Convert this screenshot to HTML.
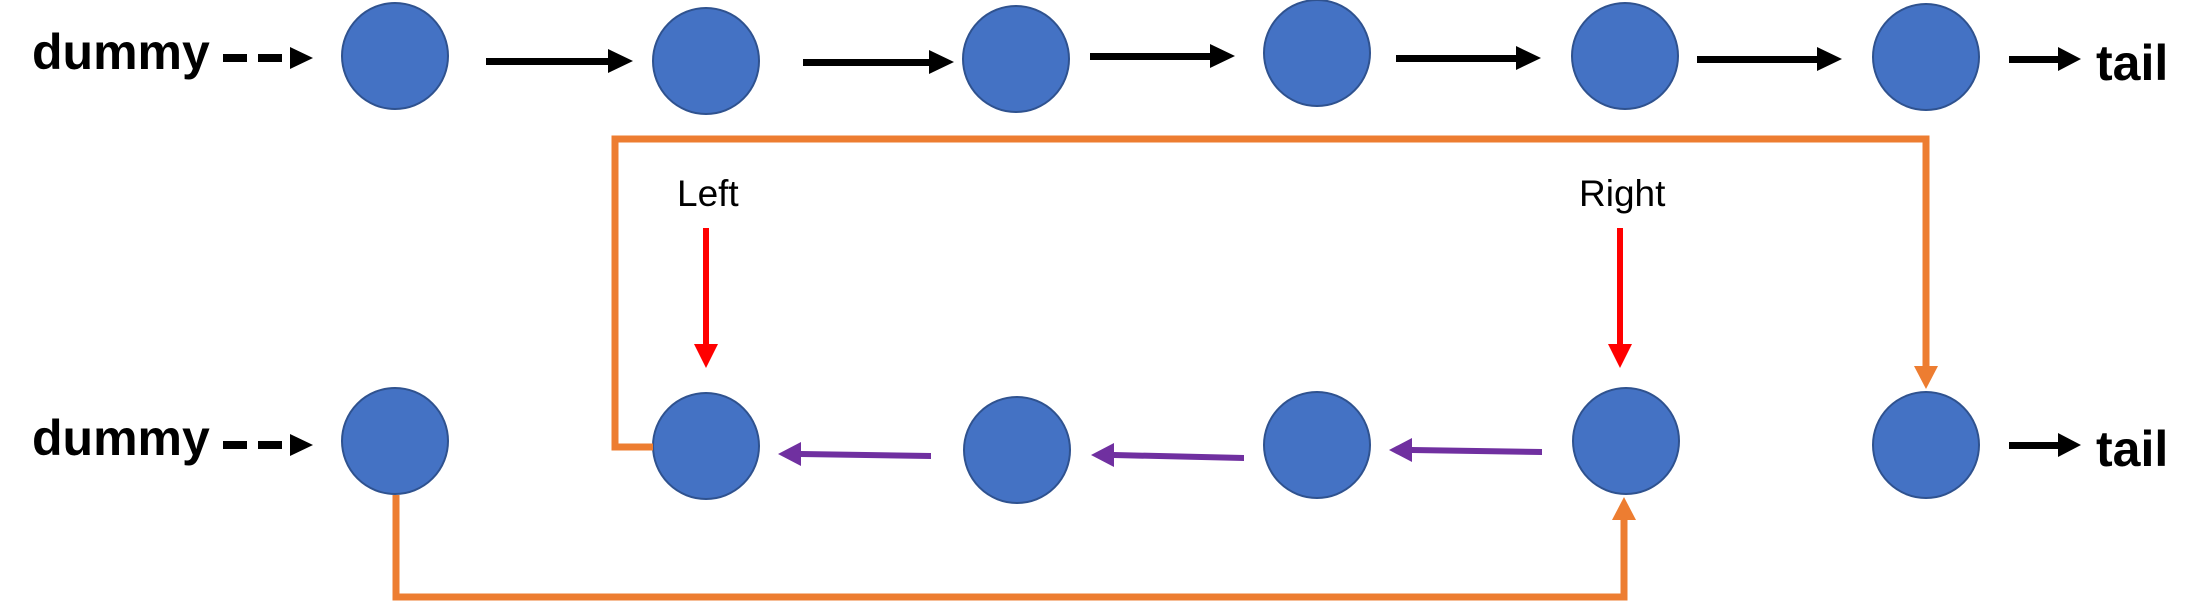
<!DOCTYPE html>
<html><head><meta charset="utf-8"><style>
html,body{margin:0;padding:0;background:#fff;}
svg{display:block;}
text{font-family:"Liberation Sans",sans-serif;}
</style></head><body>
<svg width="2206" height="604" viewBox="0 0 2206 604" xmlns="http://www.w3.org/2000/svg">
<g fill="#4472C4" stroke="#2F528F" stroke-width="2">
<ellipse cx="395" cy="56" rx="53" ry="53"/>
<ellipse cx="706" cy="61" rx="53" ry="53"/>
<ellipse cx="1016" cy="59" rx="53" ry="53"/>
<ellipse cx="1317" cy="53" rx="53" ry="53"/>
<ellipse cx="1625" cy="56" rx="53" ry="53"/>
<ellipse cx="1926" cy="57" rx="53" ry="53"/>
<ellipse cx="395" cy="441" rx="53" ry="53"/>
<ellipse cx="706" cy="446" rx="53" ry="53"/>
<ellipse cx="1017" cy="450" rx="53" ry="53"/>
<ellipse cx="1317" cy="445" rx="53" ry="53"/>
<ellipse cx="1626" cy="441" rx="53" ry="53"/>
<ellipse cx="1926" cy="445" rx="53" ry="53"/>
</g>
<!-- labels -->
<g font-weight="bold" font-size="50" fill="#000">
<text x="32" y="69">dummy</text>
<text x="32" y="455">dummy</text>
<text x="2096" y="80">tail</text>
<text x="2096" y="466">tail</text>
</g>
<text x="677" y="206" font-size="37">Left</text>
<text x="1579" y="206" font-size="37">Right</text>
<!-- dashed arrows -->
<g fill="#000">
<rect x="223" y="54" width="24" height="8"/><rect x="258" y="54" width="24" height="8"/>
<polygon points="290,47 313,58 290,69"/>
<rect x="223" y="441" width="24" height="8"/><rect x="258" y="441" width="24" height="8"/>
<polygon points="290,434 313,445 290,456"/>
</g>
<!-- black arrows top -->
<g fill="#000">
<rect x="486" y="58" width="124" height="7"/><polygon points="608,49 633,61 608,73"/>
<rect x="803" y="59" width="128" height="7"/><polygon points="929,50 954,62 929,74"/>
<rect x="1090" y="53" width="122" height="7"/><polygon points="1210,44 1235,56 1210,68"/>
<rect x="1396" y="55" width="122" height="7"/><polygon points="1516,46 1541,58 1516,70"/>
<rect x="1697" y="56" width="122" height="7"/><polygon points="1817,47 1842,59 1817,71"/>
<rect x="2009" y="56" width="50" height="7"/><polygon points="2058,47 2081,59 2058,71"/>
<rect x="2009" y="442" width="50" height="7"/><polygon points="2058,433 2081,445 2058,457"/>
</g>
<!-- purple arrows -->
<g fill="#7030A0">
<polygon points="801,451 931,453 931,459 801,457"/><polygon points="778,454 801,442 801,466"/>
<polygon points="1114,452 1244,455 1244,461 1114,458"/><polygon points="1091,455 1114,443 1114,467"/>
<polygon points="1412,447 1542,449 1542,455 1412,453"/><polygon points="1389,450 1412,438 1412,462"/>
</g>
<!-- red arrows -->
<g fill="#FF0000">
<rect x="703" y="228" width="6" height="118"/><polygon points="694,344 718,344 706,368"/>
<rect x="1617" y="228" width="6" height="118"/><polygon points="1608,344 1632,344 1620,368"/>
</g>
<!-- orange connectors -->
<g fill="none" stroke="#ED7D31" stroke-width="7">
<polyline points="653,447 615,447 615,139 1926,139 1926,368"/>
<polyline points="396,495 396,597 1624,597 1624,518"/>
</g>
<g fill="#ED7D31">
<polygon points="1914,366 1938,366 1926,389"/>
<polygon points="1612,520 1636,520 1624,497"/>
</g>
</svg>
</body></html>
